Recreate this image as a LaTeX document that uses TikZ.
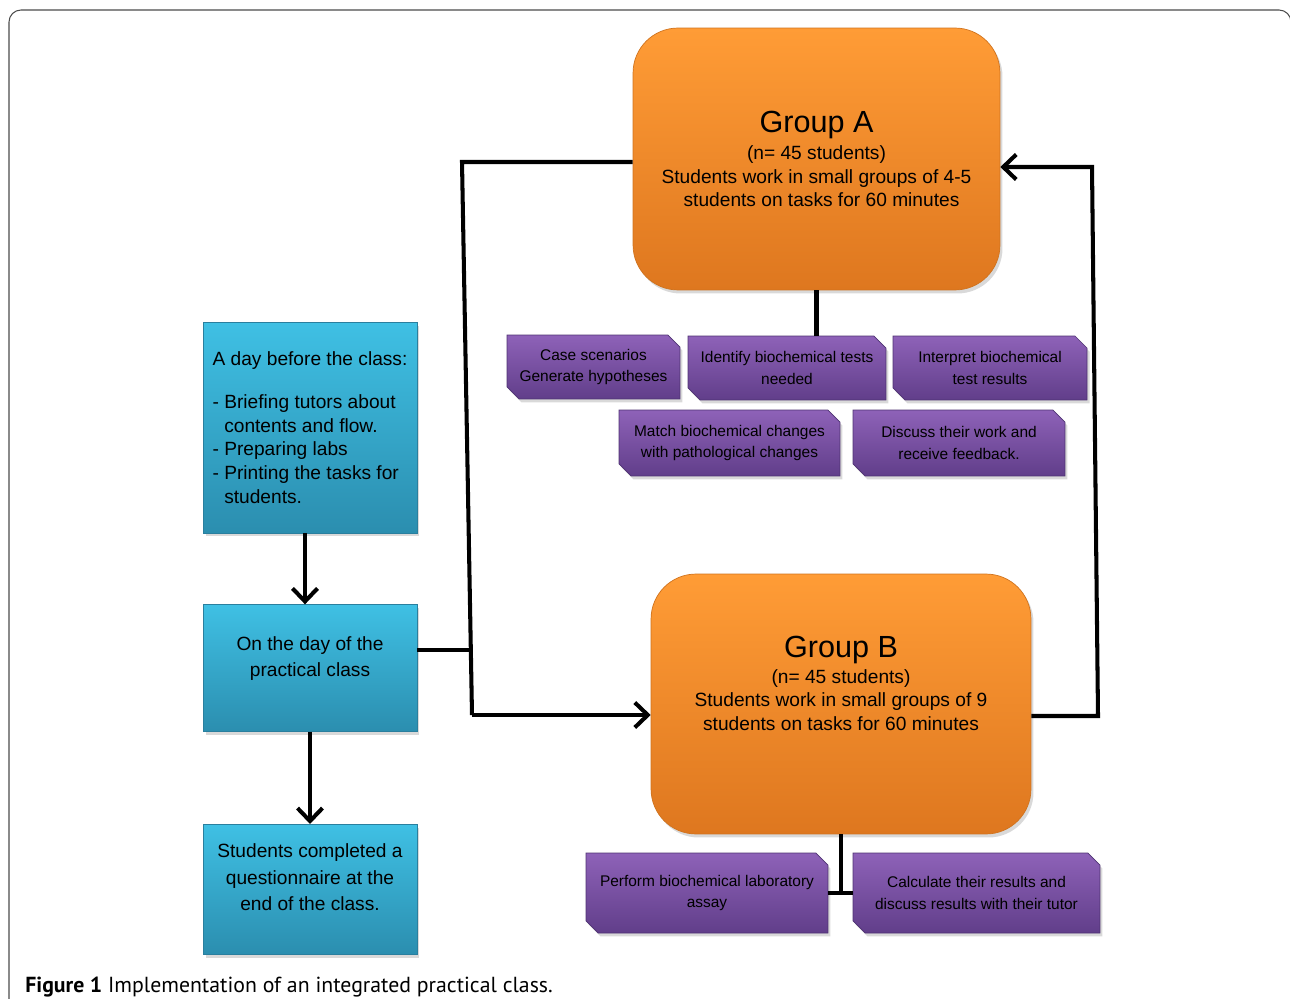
\documentclass[tikz,border=0pt]{standalone}
\usepackage{fontspec}
\setmainfont{Liberation Sans}
\newfontfamily\captionfont{PT Sans}
\usetikzlibrary{positioning}
\usetikzlibrary{shapes.misc}
\usetikzlibrary{shadows}
\usetikzlibrary{arrows.meta}

\definecolor{bluetop}{HTML}{3FC0E4}
\definecolor{bluebot}{HTML}{2B8EAF}
\definecolor{blueline}{HTML}{2A7F9E}
\definecolor{orangetop}{HTML}{FF9C36}
\definecolor{orangebot}{HTML}{DE771F}
\definecolor{orangeline}{HTML}{D0731E}
\definecolor{purpletop}{HTML}{8E62B8}
\definecolor{purplebot}{HTML}{613E8A}
\definecolor{purpleline}{HTML}{4E3272}

\begin{document}
\begin{tikzpicture}[x=0.02cm, y=-0.02cm,
                    boxshadow/.style={drop shadow={shadow xshift=0.05cm,
                      shadow yshift=-0.07cm, opacity=0.3}},
                    bluebox/.style={rectangle,
                      draw=blueline,
                      line width=0.4pt,
                      top color=bluetop,
                      bottom color=bluebot,
                      boxshadow,
                      minimum width=4.28cm,
                      text=black,
                      align=center,
                      font=\fontsize{10.9}{15.1}\selectfont},
                    bluetext/.style={align=center,
                      font=\fontsize{10.9}{15.1}\selectfont},
                    groupbox/.style={rectangle,
                      rounded corners=0.9cm,
                      draw=orangeline,
                      line width=0.4pt,
                      top color=orangetop,
                      bottom color=orangebot,
                      boxshadow,
                      text=black,
                      align=center,
                      font=\fontsize{10.9}{13.4}\selectfont},
                    grouptext/.style={align=center,
                      font=\fontsize{10.9}{13.4}\selectfont},
                    taskbox/.style={chamfered rectangle,
                      chamfered rectangle corners={north east, south west},
                      chamfered rectangle xsep=0.12cm,
                      chamfered rectangle ysep=0.12cm,
                      draw=purpleline,
                      line width=0.4pt,
                      top color=purpletop,
                      bottom color=purplebot,
                      boxshadow,
                      text=black,
                      align=center,
                      font=\fontsize{8.8}{12.5}\selectfont},
                    flow/.style={line width=2.3pt},
                    tip/.style={-{Straight Barb[length=0.26cm, width=0.5cm]}}]
\clip (0,0) rectangle (1290,999);
% frame and caption
\draw[black!70, line width=0.6pt, rounded corners=0.24cm]
  (9,1040) -- (9,10) -- (1291,10) -- (1291,1040);
\node[anchor=base west, inner sep=0pt,
      font=\captionfont\fontsize{12.4}{14}\selectfont] (caption) at (25,992)
  {\textbf{Figure 1} Implementation of an integrated practical class.};

% left column
\node[bluebox, minimum height=4.22cm, align=left,
      font=\fontsize{10.9}{13.5}\selectfont] (prep) at (310,427.5)
  {A day before the class:\\[11pt]- Briefing tutors about\\\phantom{- }contents and flow.\\- Preparing labs\\- Printing the tasks for\\\phantom{- }students.};
\node[bluebox, minimum height=2.54cm, below=1.42cm of prep,
      label={[bluetext, yshift=0.19cm]center:{On the day of the\\practical class}}] (day) {};
\node[bluebox, minimum height=2.6cm, below=1.84cm of day,
      label={[bluetext, yshift=0.24cm]center:{Students completed a\\questionnaire at the\\end of the class.}}] (finish) {};

% the two groups
\node[groupbox, minimum width=7.34cm, minimum height=5.24cm] (grpA) at (816.5,159)
  {{\fontsize{17.4}{20}\selectfont Group A}\\[2pt](n= 45 students)\\Students work in small groups of 4-5\\\hspace*{0.2cm}students on tasks for 60 minutes};
\node[groupbox, minimum width=7.6cm, minimum height=5.2cm,
      label={[grouptext, yshift=0.41cm]center:{{\fontsize{17.4}{20}\selectfont Group B}\\[1pt](n= 45 students)\\Students work in small groups of 9\\students on tasks for 60 minutes}}] (grpB) at (841,704) {};

% tasks of group A
\node[taskbox, minimum width=3.46cm, minimum height=1.28cm] (cases) at (593.5,367)
  {Case scenarios\\Generate hypotheses};
\node[taskbox, minimum width=3.96cm, minimum height=1.28cm] (tests) at (787,368)
  {Identify biochemical tests\\needed};
\node[taskbox, minimum width=3.88cm, minimum height=1.28cm] (interpret) at (990,368)
  {Interpret biochemical\\test results};
\node[taskbox, minimum width=4.42cm, minimum height=1.32cm] (match) at (729.5,443)
  {Match biochemical changes\\with pathological changes};
\node[taskbox, minimum width=4.24cm, minimum height=1.32cm] (discuss) at (959,443)
  {Discuss their work and\\receive feedback.};

% tasks of group B
\node[taskbox, minimum width=4.84cm, minimum height=1.6cm] (assay) at (707,893)
  {Perform biochemical laboratory\\assay};
\node[taskbox, minimum width=4.94cm, minimum height=1.6cm] (calc) at (976.5,893)
  {Calculate their results and\\discuss results with their tutor};

% connectors
\coordinate (split) at (470,650);
\coordinate (upbend) at (462,162);
\coordinate (lowbend) at (472,715);
\coordinate (backlow) at (1098,716);
\coordinate (backup) at (1092,167);

\draw[flow, tip] ([xshift=-0.1cm]prep.south) -- ([xshift=-0.1cm]day.north);
\draw[flow, tip] (day.south) -- (finish.north);
\draw[flow] (split -| day.east) -- (split);
\draw[flow] (upbend -| grpA.west) -- (upbend) -- (lowbend);
\draw[flow, tip] (lowbend) -- (lowbend -| grpB.west);
\draw[flow, tip] (backlow -| grpB.east) -- (backlow) -- (backup) -- (backup -| grpA.east);
\draw[flow] (grpA.south) -- (grpA.south |- tests.north);
\draw[flow] (grpB.south) -- (grpB.south |- assay.east);
\draw[flow] (assay.east) -- (calc.west);
\end{tikzpicture}
\end{document}
